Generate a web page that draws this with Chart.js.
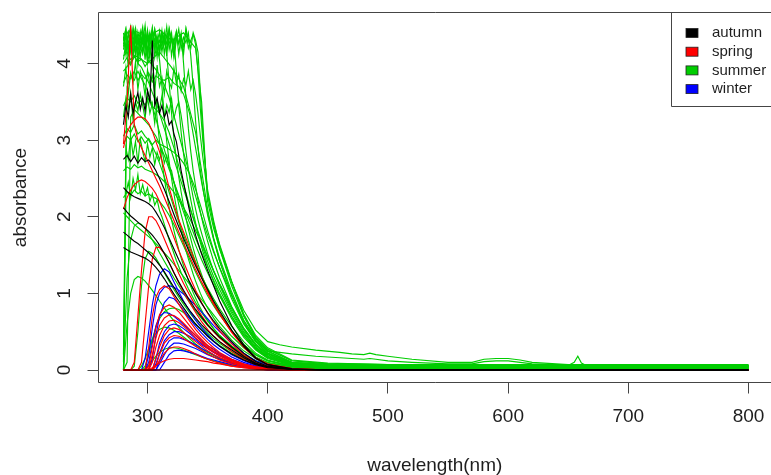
<!DOCTYPE html>
<html><head><meta charset="utf-8">
<script src="https://cdn.jsdelivr.net/npm/chart.js@4.4.1/dist/chart.umd.min.js"></script>
<style>html,body{margin:0;padding:0;background:#fff;overflow:hidden}canvas{display:block}</style>
</head><body>
<canvas id="c" width="771" height="475"></canvas>
<script>
// ---------- categories ----------
const seasons = ['autumn', 'spring', 'summer', 'winter'];
const seasonColors = { autumn: '#000000', spring: '#FF0000', summer: '#00CD00', winter: '#0000FF' };

// ---------- wavelength grids (nm) ----------
const wlMain = [280,283,286,289,292,295,298,301,304,307,310,314,318,322,326,330,335,340,345,350,355,360,370,380,390,400,420,450,500,650,800];
const wlNoisy = [280,282,284,286,288,290,292,294,296,298,300,302,304,306,308,310,312,314,316,318,320,322,324,326,328,330,332,334,336,338,340,342,344,346,350,355,360,370,380,390,400,420,450,500,650,800];
const wlTail = [280,290,300,310,320,330,340,345,350,355,360,370,380,390,400,410,420,440,460,470,480,485,490,500,520,550,570,580,590,600,610,620,640,650,655,658,661,665,700,750,800];

// ---------- autumn (black) ----------
const autumnNoisy = [
  [3.2,3.45,3.3,3.6,3.35,3.5,3.62,3.4,3.55,3.38,3.65,3.5,4.3,3.45,3.55,3.35,3.45,3.3,3.38,3.2,3.25,3.08,2.98,2.8,2.6,2.45,2.3,2.15,2.0,1.88,1.76,1.66,1.56,1.47,1.3,1.1,0.9,0.58,0.33,0.16,0.07,0.02,0,0,0,0]
];
const autumnMain = [
  [2.75,2.8,2.72,2.79,2.7,2.77,2.72,2.74,2.68,2.6,2.5,2.36,2.2,2.03,1.87,1.72,1.53,1.36,1.2,1.05,0.9,0.77,0.52,0.31,0.15,0.07,0.01,0,0,0,0],
  [2.38,2.33,2.29,2.26,2.24,2.22,2.2,2.17,2.13,2.06,1.98,1.86,1.72,1.58,1.44,1.31,1.15,1.0,0.87,0.75,0.64,0.54,0.37,0.22,0.11,0.05,0.01,0,0,0,0],
  [2.12,2.06,2.01,1.97,1.93,1.89,1.85,1.81,1.76,1.7,1.63,1.52,1.4,1.27,1.15,1.04,0.91,0.79,0.69,0.59,0.51,0.43,0.3,0.18,0.09,0.04,0.01,0,0,0,0],
  [1.8,1.76,1.72,1.68,1.65,1.61,1.57,1.53,1.48,1.43,1.37,1.28,1.18,1.08,0.98,0.89,0.78,0.68,0.59,0.51,0.44,0.37,0.26,0.16,0.08,0.04,0.01,0,0,0,0],
  [1.6,1.57,1.54,1.52,1.5,1.48,1.46,1.43,1.39,1.34,1.28,1.19,1.09,0.99,0.9,0.81,0.7,0.6,0.52,0.44,0.37,0.31,0.21,0.13,0.07,0.03,0.01,0,0,0,0],
  [0,0,0,0,0,0,0,0,0,0,0,0,0,0,0,0,0,0,0,0,0,0,0,0,0,0,0,0,0,0,0]
];

// ---------- spring (red) ----------
const springMain = [
  [2.95,3.5,4.5,3.2,3.0,2.9,2.8,2.7,2.6,2.5,2.4,2.25,2.1,1.95,1.8,1.65,1.48,1.31,1.15,1.0,0.86,0.73,0.5,0.31,0.16,0.08,0.02,0,0,0,0],
  [2.9,3.1,3.2,3.26,3.3,3.3,3.28,3.22,3.12,2.98,2.85,2.62,2.38,2.16,1.96,1.8,1.6,1.4,1.21,1.03,0.87,0.73,0.49,0.3,0.15,0.07,0.02,0,0,0,0],
  [2.1,2.25,2.35,2.42,2.46,2.48,2.46,2.42,2.37,2.3,2.2,2.05,1.9,1.73,1.56,1.41,1.22,1.04,0.88,0.74,0.62,0.51,0.34,0.2,0.1,0.05,0.01,0,0,0,0],
  [0,0,0,0.1,0.7,1.3,1.8,2.0,2.0,1.95,1.86,1.71,1.56,1.41,1.26,1.13,0.98,0.84,0.71,0.6,0.5,0.42,0.28,0.17,0.09,0.04,0.01,0,0,0,0],
  [0,0,0,0,0,0.1,0.6,1.1,1.45,1.6,1.6,1.52,1.4,1.27,1.14,1.02,0.88,0.75,0.63,0.53,0.44,0.37,0.24,0.14,0.07,0.03,0.01,0,0,0,0],
  [0,0,0,0,0,0,0,0.3,0.7,0.95,1.05,1.1,1.06,0.96,0.86,0.76,0.64,0.53,0.44,0.36,0.29,0.23,0.14,0.08,0.04,0.02,0,0,0,0,0],
  [0,0,0,0,0,0,0,0.05,0.3,0.55,0.72,0.82,0.85,0.82,0.76,0.68,0.58,0.48,0.4,0.32,0.26,0.21,0.13,0.07,0.04,0.02,0,0,0,0,0],
  [0,0,0,0,0,0,0,0.02,0.2,0.42,0.58,0.68,0.72,0.71,0.67,0.61,0.53,0.45,0.37,0.3,0.24,0.19,0.12,0.07,0.03,0.01,0,0,0,0,0],
  [0,0,0,0,0,0,0,0,0.1,0.3,0.45,0.58,0.64,0.65,0.62,0.57,0.5,0.42,0.35,0.28,0.23,0.18,0.11,0.06,0.03,0.01,0,0,0,0,0],
  [0,0,0,0,0,0,0,0,0,0.15,0.3,0.45,0.53,0.55,0.53,0.49,0.43,0.37,0.31,0.25,0.2,0.16,0.1,0.05,0.03,0.01,0,0,0,0,0],
  [0,0,0,0,0,0,0,0,0,0.05,0.2,0.35,0.42,0.45,0.44,0.41,0.36,0.31,0.26,0.21,0.17,0.13,0.08,0.04,0.02,0.01,0,0,0,0,0],
  [0,0,0,0,0,0,0,0,0,0.05,0.12,0.22,0.28,0.3,0.3,0.28,0.25,0.21,0.17,0.14,0.11,0.09,0.05,0.03,0.01,0,0,0,0,0,0],
  [0,0,0,0,0,0,0,0,0.03,0.06,0.09,0.12,0.14,0.15,0.15,0.15,0.14,0.13,0.12,0.11,0.09,0.08,0.05,0.03,0.02,0.01,0,0,0,0,0],
  [0,0,0,0,0,0,0,0,0,0,0,0,0,0,0,0,0,0,0,0,0,0,0,0,0,0,0,null,null,null,null]
];

// ---------- winter (blue) ----------
const winterMain = [
  [0,0,0,0,0,0,0.15,0.5,0.85,1.1,1.25,1.32,1.28,1.15,1.02,0.9,0.77,0.65,0.55,0.46,0.38,0.31,0.2,0.12,0.06,0.03,0.01,0,0,0,0],
  [0,0,0,0,0,0,0,0.2,0.55,0.85,1.0,1.08,1.1,1.08,1.04,0.99,0.92,0.84,0.76,0.67,0.58,0.5,0.35,0.22,0.12,0.06,0.01,0,0,0,0],
  [0,0,0,0,0,0,0,0,0.15,0.45,0.7,0.88,0.95,0.93,0.86,0.78,0.67,0.57,0.48,0.4,0.33,0.27,0.17,0.1,0.05,0.02,0,0,0,0,0],
  [0,0,0,0,0,0,0,0.1,0.35,0.58,0.7,0.75,0.74,0.7,0.65,0.59,0.52,0.45,0.38,0.32,0.27,0.22,0.14,0.08,0.04,0.02,0,0,0,0,0],
  [0,0,0,0,0,0,0,0,0,0.15,0.35,0.5,0.58,0.6,0.58,0.54,0.48,0.41,0.35,0.29,0.24,0.2,0.13,0.07,0.04,0.02,0,0,0,0,0],
  [0,0,0,0,0,0,0,0,0,0.08,0.22,0.38,0.46,0.5,0.5,0.48,0.44,0.39,0.33,0.28,0.23,0.19,0.12,0.07,0.04,0.02,0,0,0,0,0],
  [0,0,0,0,0,0,0,0,0,0,0.12,0.28,0.38,0.42,0.42,0.4,0.37,0.33,0.28,0.24,0.2,0.16,0.1,0.06,0.03,0.01,0,0,0,0,0],
  [0,0,0,0,0,0,0,0,0,0,0.08,0.2,0.3,0.35,0.35,0.34,0.31,0.28,0.24,0.2,0.17,0.14,0.09,0.05,0.02,0,0,0,0,0,0],
  [0,0,0,0,0,0,0,0,0,0,0,0.1,0.2,0.25,0.26,0.25,0.23,0.21,0.18,0.15,0.13,0.11,0.07,0.04,0.02,0,0,0,0,0,0]
];

// ---------- summer (green) ----------
const summerNoisy = [
  [4.31,4.45,4.12,4.38,4.22,4.47,4.05,4.36,4.28,4.5,4.15,4.4,4.2,4.33,4.08,4.42,4.25,4.38,4.1,4.46,4.3,4.18,4.41,4.27,4.35,4.12,4.44,4.2,4.3,4.38,4.25,3.9,3.4,3.0,2.35,1.95,1.62,1.15,0.72,0.43,0.27,0.12,0.08,0.07,0.07,0.06],
  [4.22,4.38,4.15,4.44,4.3,4.1,4.41,4.26,4.35,4.05,4.4,4.28,4.47,4.18,4.33,4.2,4.43,4.12,4.37,4.25,4.4,4.08,4.3,4.45,4.19,4.34,4.27,4.4,4.1,3.7,3.25,2.9,2.6,2.38,2.02,1.7,1.42,0.98,0.62,0.37,0.22,0.1,0.06,0.05,0.05,0.05],
  [4.4,4.2,4.35,4.48,4.1,4.3,4.25,4.42,4.15,4.38,4.3,4.05,4.45,4.22,4.36,4.12,4.4,4.28,4.18,4.43,4.3,4.1,4.35,4.25,4.4,4.0,3.55,3.15,2.85,2.6,2.4,2.22,2.06,1.92,1.68,1.42,1.2,0.83,0.53,0.32,0.19,0.08,0.05,0.04,0.04,0.04],
  [4.3,4.45,4.2,4.38,4.12,4.4,4.27,4.33,4.48,4.18,4.35,4.22,4.42,4.08,4.3,4.4,4.15,4.36,4.25,4.44,4.1,4.32,3.9,3.45,3.1,2.82,2.6,2.4,2.22,2.06,1.92,1.78,1.66,1.55,1.36,1.15,0.97,0.67,0.43,0.26,0.15,0.06,0.04,0.03,0.03,0.03],
  [4.18,4.36,4.42,4.2,4.3,4.46,4.15,4.33,4.25,4.4,4.1,4.38,4.28,4.44,4.16,4.3,4.22,4.41,4.12,3.75,3.35,3.02,2.75,2.52,2.32,2.14,1.98,1.84,1.71,1.59,1.48,1.38,1.29,1.2,1.05,0.88,0.74,0.51,0.33,0.2,0.12,0.05,0.03,0.03,0.03,0.03],
  [4.35,4.12,4.4,4.26,4.45,4.18,4.32,4.08,4.38,4.22,4.44,4.15,4.3,4.4,4.2,4.05,3.7,3.3,2.98,2.72,2.5,2.3,2.12,1.96,1.82,1.68,1.56,1.45,1.35,1.25,1.16,1.08,1.0,0.93,0.81,0.68,0.57,0.39,0.25,0.15,0.09,0.04,0.02,0.02,0.02,0.02],
  [4.05,4.28,3.95,4.2,4.1,4.35,3.98,4.22,4.12,4.3,4.0,4.18,4.08,3.65,3.28,2.98,2.72,2.5,2.3,2.12,1.96,1.82,1.69,1.57,1.46,1.36,1.26,1.17,1.09,1.01,0.94,0.87,0.81,0.75,0.65,0.54,0.45,0.31,0.2,0.12,0.07,0.03,0.02,0.02,0.02,0.02],
  [3.7,3.95,3.6,3.88,3.75,4.02,3.66,3.9,3.8,3.58,3.92,3.72,3.85,3.62,3.98,3.7,3.82,3.6,3.9,3.76,3.68,3.94,3.74,3.86,3.64,3.8,3.72,3.9,3.66,3.78,3.6,3.35,3.05,2.78,2.3,1.9,1.58,1.1,0.7,0.42,0.27,0.12,0.08,0.07,0.06,0.06],
  [3.3,3.55,3.4,3.62,3.25,3.5,3.38,3.6,3.45,3.28,3.56,3.35,3.48,3.22,3.52,3.4,3.58,3.3,3.46,3.36,3.54,3.28,3.42,3.5,3.32,3.1,2.85,2.62,2.42,2.25,2.1,1.96,1.84,1.73,1.52,1.29,1.1,0.77,0.5,0.3,0.18,0.08,0.05,0.04,0.04,0.04],
  [0.2,2.9,2.75,3.05,2.8,2.98,2.7,3.02,2.85,2.72,2.95,2.78,2.9,2.68,2.84,2.74,2.88,2.7,2.8,2.66,2.6,2.45,2.3,2.16,2.03,1.91,1.8,1.69,1.59,1.5,1.41,1.33,1.25,1.18,1.04,0.88,0.74,0.51,0.33,0.2,0.12,0.05,0.03,0.03,0.03,0.03],
  [0.0,2.3,2.45,2.25,2.5,2.35,2.55,2.3,2.42,2.28,2.38,2.2,2.3,2.15,2.22,2.08,2.0,1.9,1.8,1.7,1.61,1.52,1.43,1.35,1.27,1.2,1.13,1.06,1.0,0.94,0.88,0.83,0.78,0.73,0.64,0.54,0.45,0.31,0.2,0.12,0.07,0.03,0.02,0.01,0.01,0.01],
  [4.25,4.4,4.3,4.15,4.46,4.28,4.36,4.2,4.42,4.32,4.1,4.38,4.24,4.45,4.3,4.14,4.4,4.26,4.48,4.18,4.34,4.28,4.42,4.12,4.36,4.22,4.46,4.3,4.2,4.4,4.3,4.15,3.6,3.1,2.28,1.92,1.64,1.16,0.73,0.45,0.29,0.13,0.09,0.07,0.07,0.07]
];
const summerMain = [
  [0,1.2,1.7,1.88,1.92,1.9,1.85,1.78,1.7,1.62,1.53,1.42,1.31,1.2,1.1,1.0,0.88,0.77,0.67,0.58,0.5,0.42,0.29,0.19,0.11,0.06,0.02,0.01,0.01,0.01,0.01],
  [0,0.6,1.0,1.18,1.22,1.2,1.16,1.1,1.04,0.97,0.9,0.81,0.72,0.64,0.56,0.49,0.41,0.34,0.28,0.23,0.19,0.15,0.1,0.06,0.03,0.02,0.01,0,0,0,0],
  [0,0,0,0,0,0.05,0.15,0.28,0.4,0.48,0.53,0.56,0.55,0.52,0.48,0.43,0.37,0.31,0.26,0.21,0.17,0.14,0.09,0.05,0.03,0.01,0,0,0,0,0],
  [0,0,0,0.05,0.5,1.1,1.45,1.55,1.52,1.46,1.38,1.27,1.16,1.05,0.95,0.86,0.75,0.65,0.56,0.48,0.41,0.35,0.24,0.15,0.09,0.05,0.02,0.01,0.01,0.01,0.01],
  [0,0,0,0,0,0,0.02,0.06,0.12,0.18,0.23,0.27,0.29,0.29,0.28,0.26,0.23,0.2,0.17,0.14,0.12,0.1,0.06,0.04,0.02,0.01,0,0,0,0,0],
  [0,0,0,0,0,0,0.05,0.2,0.4,0.56,0.67,0.76,0.8,0.81,0.79,0.75,0.68,0.6,0.52,0.45,0.38,0.32,0.22,0.14,0.08,0.04,0.01,0,0,0,0],
  [2.05,2.0,1.95,1.9,1.86,1.82,1.78,1.74,1.7,1.65,1.6,1.53,1.46,1.38,1.3,1.22,1.12,1.02,0.92,0.82,0.72,0.62,0.44,0.29,0.17,0.1,0.04,0.02,0.02,0.02,0.02],
  [0,0.1,3.3,3.4,3.35,3.3,3.25,3.2,3.12,3.05,2.95,2.8,2.62,2.45,2.28,2.12,1.92,1.72,1.53,1.35,1.17,1.0,0.7,0.45,0.27,0.16,0.06,0.04,0.03,0.03,0.03],
  [3.75,3.85,3.8,3.9,3.78,3.86,3.8,3.88,3.76,3.84,3.8,3.78,3.82,3.74,3.7,3.6,3.35,2.9,2.45,2.05,1.72,1.46,1.02,0.65,0.39,0.24,0.1,0.07,0.06,0.05,0.05],
  [3.45,3.55,3.5,3.58,3.48,3.52,3.46,3.54,3.44,3.4,3.35,3.25,3.1,2.9,2.66,2.42,2.14,1.88,1.64,1.42,1.22,1.05,0.74,0.48,0.29,0.17,0.07,0.05,0.04,0.04,0.04],
  [3.05,3.15,3.1,3.2,3.08,3.12,3.05,3.0,2.92,2.82,2.7,2.52,2.32,2.12,1.93,1.76,1.56,1.38,1.22,1.07,0.93,0.8,0.57,0.37,0.22,0.13,0.05,0.03,0.03,0.03,0.03],
  [4.1,4.15,4.05,4.1,4.0,3.95,3.85,3.75,3.62,3.5,3.35,3.15,2.95,2.75,2.55,2.36,2.12,1.9,1.68,1.48,1.3,1.13,0.82,0.55,0.34,0.21,0.09,0.06,0.05,0.05,0.05],
  [2.6,2.65,2.62,2.68,2.64,2.66,2.62,2.6,2.58,2.55,2.52,2.46,2.4,2.32,2.22,2.12,1.98,1.82,1.65,1.47,1.29,1.12,0.8,0.53,0.33,0.2,0.08,0.05,0.04,0.04,0.04],
  [2.95,3.05,3.0,3.08,2.98,3.04,2.96,3.02,2.94,3.0,2.95,2.92,2.88,2.84,2.78,2.7,2.56,2.36,2.1,1.82,1.56,1.33,0.93,0.6,0.37,0.22,0.09,0.06,0.05,0.05,0.05],
  [4.0,4.08,3.98,4.1,4.02,4.06,3.96,4.04,3.98,3.92,3.85,3.72,3.55,3.32,3.08,2.84,2.55,2.27,2.0,1.76,1.54,1.34,0.97,0.65,0.41,0.25,0.1,0.07,0.06,0.05,0.05],
  [0.1,3.7,3.85,3.78,3.9,3.8,3.72,3.6,3.45,3.28,3.1,2.88,2.66,2.45,2.25,2.06,1.84,1.63,1.44,1.27,1.11,0.97,0.7,0.46,0.28,0.17,0.07,0.04,0.03,0.03,0.03],
  [2.25,2.32,2.28,2.35,2.3,2.33,2.27,2.3,2.26,2.24,2.2,2.12,2.02,1.9,1.76,1.62,1.45,1.28,1.12,0.97,0.84,0.72,0.51,0.33,0.2,0.12,0.05,0.03,0.02,0.02,0.02]
];
const summerTail = [
  [4.3,4.42,4.35,4.44,4.3,4.4,4.2,3.5,2.2,1.85,1.58,1.15,0.78,0.52,0.37,0.33,0.3,0.26,0.23,0.21,0.2,0.22,0.2,0.18,0.14,0.1,0.1,0.14,0.15,0.15,0.13,0.1,0.08,0.07,0.07,0.07,0.07,0.07,0.06,0.06,0.06],
  [3.9,4.1,4.0,4.15,3.95,3.7,3.1,2.6,2.1,1.72,1.42,0.98,0.62,0.38,0.25,0.23,0.21,0.18,0.16,0.15,0.14,0.15,0.14,0.12,0.1,0.08,0.08,0.11,0.12,0.12,0.1,0.08,0.07,0.06,0.1,0.18,0.09,0.06,0.05,0.05,0.05]
];

// ---------- axis ticks ----------
const xTickValues = [300, 400, 500, 600, 700, 800];
const yTickValues = [0, 1, 2, 3, 4];

const FONT = "'Liberation Sans', Arial, Helvetica, sans-serif";
const TEXT = '#1e1e1e';
const AXIS = '#454545';

function makeSet(season, wl, vals) {
  return {
    label: season,
    data: wl.map((x, i) => ({ x: x, y: vals[i] })),
    borderColor: seasonColors[season],
    backgroundColor: seasonColors[season],
    borderWidth: 1.15,
    pointRadius: 0,
    tension: 0,
    fill: false,
    spanGaps: false
  };
}

const datasets = [];
autumnNoisy.forEach(v => datasets.push(makeSet('autumn', wlNoisy, v)));
autumnMain.forEach(v => datasets.push(makeSet('autumn', wlMain, v)));
springMain.forEach(v => datasets.push(makeSet('spring', wlMain, v)));
winterMain.forEach(v => datasets.push(makeSet('winter', wlMain, v)));
summerMain.forEach(v => datasets.push(makeSet('summer', wlMain, v)));
summerTail.forEach(v => datasets.push(makeSet('summer', wlTail, v)));
summerNoisy.forEach(v => datasets.push(makeSet('summer', wlNoisy, v)));

const decorPlugin = {
  id: 'decor',
  afterDraw(chart) {
    const ctx = chart.ctx;
    const a = chart.chartArea;
    const ys = chart.scales.y;
    ctx.save();
    ctx.strokeStyle = AXIS;
    ctx.lineWidth = 1;
    ctx.beginPath();
    ctx.moveTo(chart.width + 5, a.top);
    ctx.lineTo(a.left, a.top);
    ctx.lineTo(a.left, a.bottom);
    ctx.lineTo(chart.width + 5, a.bottom);
    ctx.stroke();
    ctx.fillStyle = TEXT;
    ctx.font = '19px ' + FONT;
    ctx.textAlign = 'center';
    ctx.textBaseline = 'middle';
    yTickValues.forEach(v => {
      const py = ys.getPixelForValue(v);
      ctx.save();
      ctx.translate(64.5, py);
      ctx.rotate(-Math.PI / 2);
      ctx.fillText(String(v), 0, 0);
      ctx.restore();
    });
    const lx = 671.5, ltop = a.top, lbot = 106.5;
    ctx.beginPath();
    ctx.moveTo(chart.width + 5, lbot);
    ctx.lineTo(lx, lbot);
    ctx.lineTo(lx, ltop);
    ctx.stroke();
    ctx.font = '15px ' + FONT;
    ctx.textAlign = 'left';
    seasons.forEach((s, i) => {
      const cy = 33 + i * 18.7;
      ctx.fillStyle = seasonColors[s];
      ctx.fillRect(686, cy - 4.5, 12, 9);
      ctx.strokeStyle = '#222';
      ctx.lineWidth = 0.8;
      ctx.strokeRect(686, cy - 4.5, 12, 9);
      ctx.fillStyle = TEXT;
      ctx.fillText(s, 712, cy);
    });
    ctx.restore();
  }
};

new Chart(document.getElementById('c'), {
  type: 'line',
  data: { datasets: datasets },
  options: {
    responsive: false,
    animation: false,
    devicePixelRatio: 1,
    events: [],
    layout: { padding: { top: 12.5, left: 0, right: 0, bottom: 0 } },
    plugins: { legend: { display: false }, tooltip: { enabled: false } },
    scales: {
      x: {
        type: 'linear',
        min: 259.23,
        max: 818.72,
        afterFit(scale) { scale.height = 92.5; scale.paddingLeft = 0; scale.paddingRight = 0; },
        afterBuildTicks(scale) { scale.ticks = xTickValues.map(v => ({ value: v })); },
        ticks: {
          includeBounds: false,
          color: TEXT,
          font: { family: FONT, size: 19, lineHeight: 1 },
          padding: 14,
          maxRotation: 0,
          autoSkip: false,
          callback: v => String(v)
        },
        grid: { drawOnChartArea: false, drawTicks: true, tickLength: 11, color: AXIS, lineWidth: 1 },
        border: { display: false },
        title: {
          display: true,
          text: 'wavelength(nm)',
          color: TEXT,
          font: { family: FONT, size: 19, lineHeight: 1 },
          padding: { top: 0, bottom: 0 }
        }
      },
      y: {
        type: 'linear',
        min: -0.1631,
        max: 4.6656,
        afterFit(scale) { scale.width = 98.5; scale.paddingTop = 0; scale.paddingBottom = 0; },
        afterBuildTicks(scale) { scale.ticks = yTickValues.map(v => ({ value: v })); },
        ticks: { display: false },
        grid: { drawOnChartArea: false, drawTicks: true, tickLength: 11, color: AXIS, lineWidth: 1 },
        border: { display: false },
        title: {
          display: true,
          text: 'absorbance',
          color: TEXT,
          font: { family: FONT, size: 19, lineHeight: 1 },
          padding: { top: 11.5, bottom: 0 }
        }
      }
    }
  },
  plugins: [decorPlugin]
});
</script>
</body></html>
